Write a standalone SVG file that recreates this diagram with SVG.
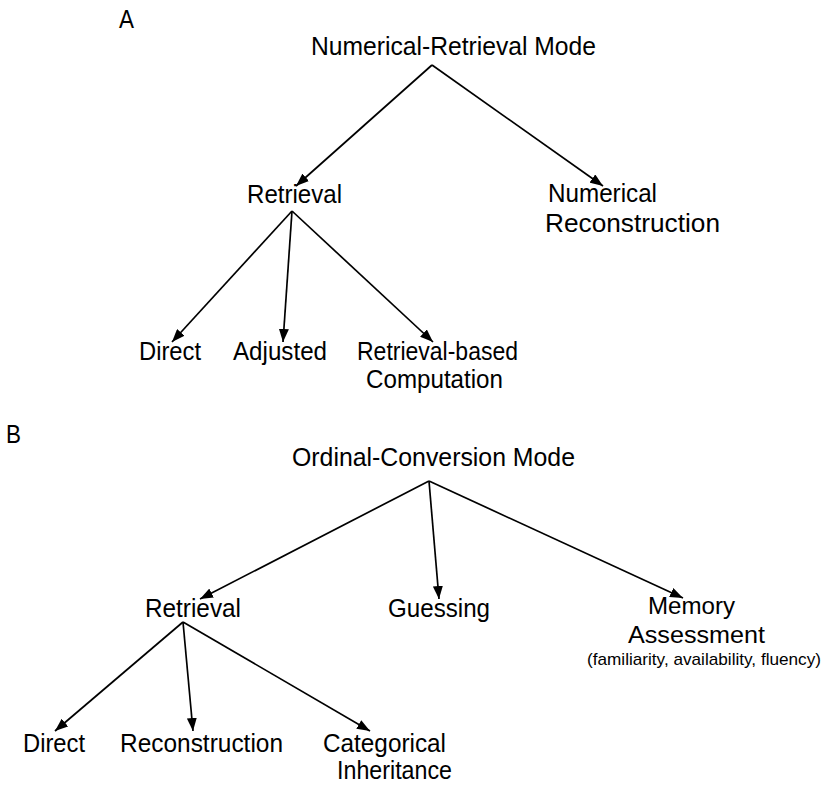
<svg xmlns="http://www.w3.org/2000/svg" width="832" height="785" viewBox="0 0 832 785">
<style>
text { font-family: "Liberation Sans", Arial, sans-serif; fill: #000; }
.lbl { font-size: 26px; }
.mid { font-size: 24px; }
.sec { font-size: 25px; }
.small { font-size: 17px; }
.conn line { stroke: #000; stroke-width: 1.7; fill: none; }
</style>
<defs>
<marker id="arr" markerUnits="userSpaceOnUse" markerWidth="13" markerHeight="10" refX="13" refY="5" orient="auto">
<path d="M0,0 L13,5 L0,10 z" fill="#000"/>
</marker>
</defs>
<rect width="832" height="785" fill="#fff"/>
<text class="sec" x="119" y="28" textLength="15" lengthAdjust="spacingAndGlyphs">A</text>
<text class="sec" x="6" y="443" textLength="15" lengthAdjust="spacingAndGlyphs">B</text>

<g id="connectors" class="conn">
<line x1="432" y1="65" x2="296" y2="186" marker-end="url(#arr)"/>
<line x1="432" y1="65" x2="603" y2="186" marker-end="url(#arr)"/>
<line x1="292" y1="211" x2="172" y2="342" marker-end="url(#arr)"/>
<line x1="292" y1="211" x2="283" y2="342" marker-end="url(#arr)"/>
<line x1="292" y1="211" x2="433" y2="342" marker-end="url(#arr)"/>
<line x1="429" y1="481" x2="200" y2="599" marker-end="url(#arr)"/>
<line x1="429" y1="481" x2="439" y2="599" marker-end="url(#arr)"/>
<line x1="429" y1="481" x2="683" y2="598" marker-end="url(#arr)"/>
<line x1="183" y1="622" x2="55" y2="731" marker-end="url(#arr)"/>
<line x1="183" y1="622" x2="193" y2="731" marker-end="url(#arr)"/>
<line x1="183" y1="622" x2="370" y2="731" marker-end="url(#arr)"/>
</g>

<g id="a-root"><text class="lbl" x="311" y="55" textLength="285" lengthAdjust="spacingAndGlyphs">Numerical-Retrieval Mode</text></g>
<g id="a-retrieval"><text class="lbl" x="247" y="203" textLength="95" lengthAdjust="spacingAndGlyphs">Retrieval</text></g>
<g id="a-numrec"><text class="lbl" x="548" y="202" textLength="109" lengthAdjust="spacingAndGlyphs">Numerical</text><text class="lbl" x="545" y="232" textLength="175" lengthAdjust="spacingAndGlyphs">Reconstruction</text></g>
<g id="a-direct"><text class="lbl" x="139" y="360" textLength="62" lengthAdjust="spacingAndGlyphs">Direct</text></g>
<g id="a-adjusted"><text class="lbl" x="233" y="360" textLength="94" lengthAdjust="spacingAndGlyphs">Adjusted</text></g>
<g id="a-rbc"><text class="lbl" x="357" y="360" textLength="161" lengthAdjust="spacingAndGlyphs">Retrieval-based</text><text class="lbl" x="366" y="388" textLength="137" lengthAdjust="spacingAndGlyphs">Computation</text></g>

<g id="b-root"><text class="lbl" x="292" y="466" textLength="283" lengthAdjust="spacingAndGlyphs">Ordinal-Conversion Mode</text></g>
<g id="b-retrieval"><text class="lbl" x="145" y="617" textLength="96" lengthAdjust="spacingAndGlyphs">Retrieval</text></g>
<g id="b-guessing"><text class="lbl" x="388" y="617" textLength="102" lengthAdjust="spacingAndGlyphs">Guessing</text></g>
<g id="b-memory"><text class="mid" x="648" y="614" textLength="87" lengthAdjust="spacingAndGlyphs">Memory</text><text class="mid" x="628" y="643" textLength="137" lengthAdjust="spacingAndGlyphs">Assessment</text><text class="small" x="587" y="665" textLength="234" lengthAdjust="spacingAndGlyphs">(familiarity, availability, fluency)</text></g>
<g id="b-direct"><text class="lbl" x="23" y="752" textLength="62" lengthAdjust="spacingAndGlyphs">Direct</text></g>
<g id="b-recon"><text class="lbl" x="120" y="752" textLength="163" lengthAdjust="spacingAndGlyphs">Reconstruction</text></g>
<g id="b-cat"><text class="lbl" x="323" y="752" textLength="123" lengthAdjust="spacingAndGlyphs">Categorical</text><text class="lbl" x="337" y="779" textLength="115" lengthAdjust="spacingAndGlyphs">Inheritance</text></g>
</svg>
